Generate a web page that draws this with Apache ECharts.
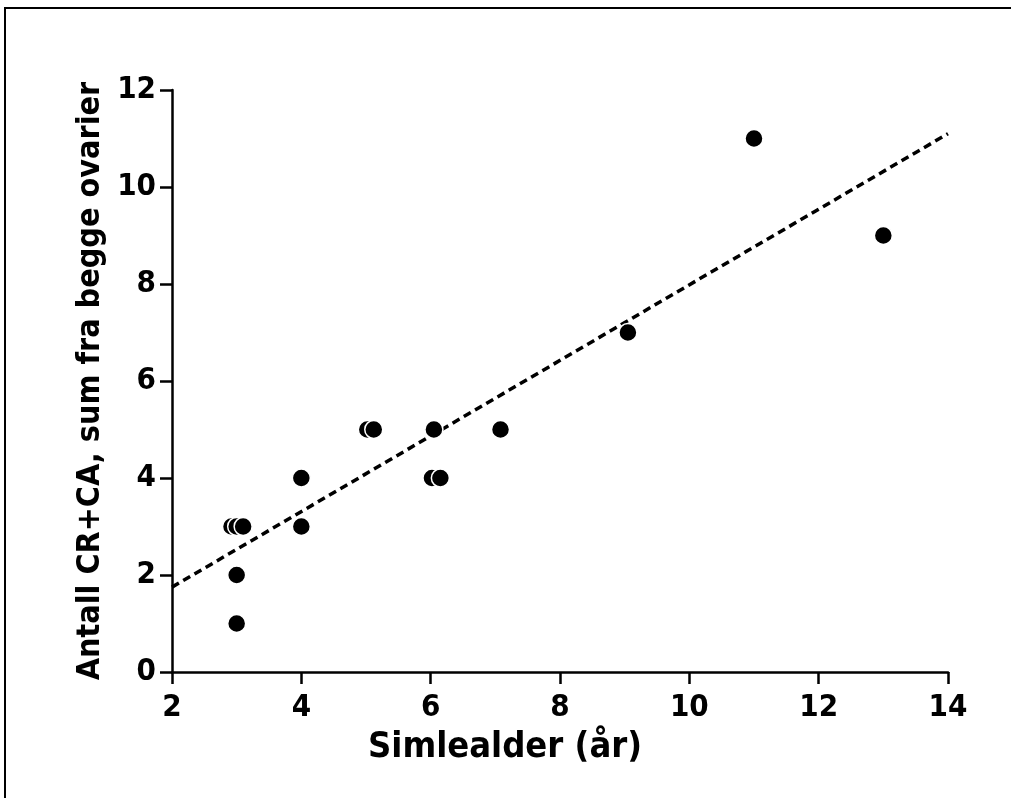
<!DOCTYPE html>
<html>
<head>
<meta charset="utf-8">
<script src="https://cdn.jsdelivr.net/npm/echarts@6/dist/echarts.min.js"></script>
<style>
html,body{margin:0;padding:0;background:#fff;}
#chart{width:1011px;height:798px;}
</style>
</head>
<body>
<div id="chart"></div>
<script>
// Data
const ageYears = [3, 3, 2.92, 3.0, 3.1, 4, 4, 5.02, 5.12, 6.05, 6.02, 6.15, 7.08, 9.05, 11.0, 13.0];
const countCRCA = [1, 2, 3, 3, 3, 3, 4, 5, 5, 5, 4, 4, 5, 7, 11, 9];
const trendX = [2, 14];
const trendY = [1.75, 11.1];
const xTicks = [2, 4, 6, 8, 10, 12, 14];
const yTicks = [0, 2, 4, 6, 8, 10, 12];
const xTitle = 'Simlealder (år)';
const yTitle = 'Antall CR+CA, sum fra begge ovarier';

const font = '"Liberation Sans Narrow", "DejaVu Sans Condensed", sans-serif';
const chart = echarts.init(document.getElementById('chart'), null, {renderer: 'canvas'});

const points = ageYears.map((x, i) => [x, countCRCA[i]]);
const trend = trendX.map((x, i) => [x, trendY[i]]);

chart.setOption({
  backgroundColor: '#fff',
  animation: false,
  grid: {left: 172, right: 63, top: 90, bottom: 126},
  graphic: [{
    type: 'polyline',
    shape: {points: [[5, 798], [5, 8], [1011, 8]]},
    style: {stroke: '#000', lineWidth: 2, fill: null},
    silent: true
  }],
  xAxis: {
    type: 'value',
    min: xTicks[0], max: xTicks[xTicks.length - 1], interval: 2,
    name: xTitle,
    nameLocation: 'middle',
    nameGap: 58,
    nameTextStyle: {fontFamily: font, fontWeight: 'bold', fontSize: 36, color: '#000', padding: [0, 110, 0, 0]},
    axisLine: {show: true, lineStyle: {color: '#000', width: 2.5}},
    axisTick: {show: true, inside: false, length: 12, lineStyle: {color: '#000', width: 2.5}},
    axisLabel: {fontFamily: font, fontWeight: 'bold', fontSize: 31, color: '#000', margin: 20},
    splitLine: {show: false}
  },
  yAxis: {
    type: 'value',
    min: yTicks[0], max: yTicks[yTicks.length - 1], interval: 2,
    name: yTitle,
    nameLocation: 'middle',
    nameGap: 56,
    nameRotate: 90,
    nameTextStyle: {fontFamily: font, fontWeight: 'bold', fontSize: 32, color: '#000'},
    axisLine: {show: true, lineStyle: {color: '#000', width: 2.5}},
    axisTick: {show: true, inside: false, length: 12, lineStyle: {color: '#000', width: 2.5}},
    axisLabel: {fontFamily: font, fontWeight: 'bold', fontSize: 31, color: '#000', margin: 16},
    splitLine: {show: false}
  },
  series: [
    {
      type: 'line',
      data: trend,
      symbol: 'none',
      lineStyle: {color: '#000', width: 3.5, type: [8, 5]},
      z: 1
    },
    {
      type: 'scatter',
      data: points,
      symbol: 'circle',
      symbolSize: 18,
      itemStyle: {color: '#000', borderColor: '#fff', borderWidth: 1.5, opacity: 1},
      z: 2
    }
  ]
});
</script>
</body>
</html>
